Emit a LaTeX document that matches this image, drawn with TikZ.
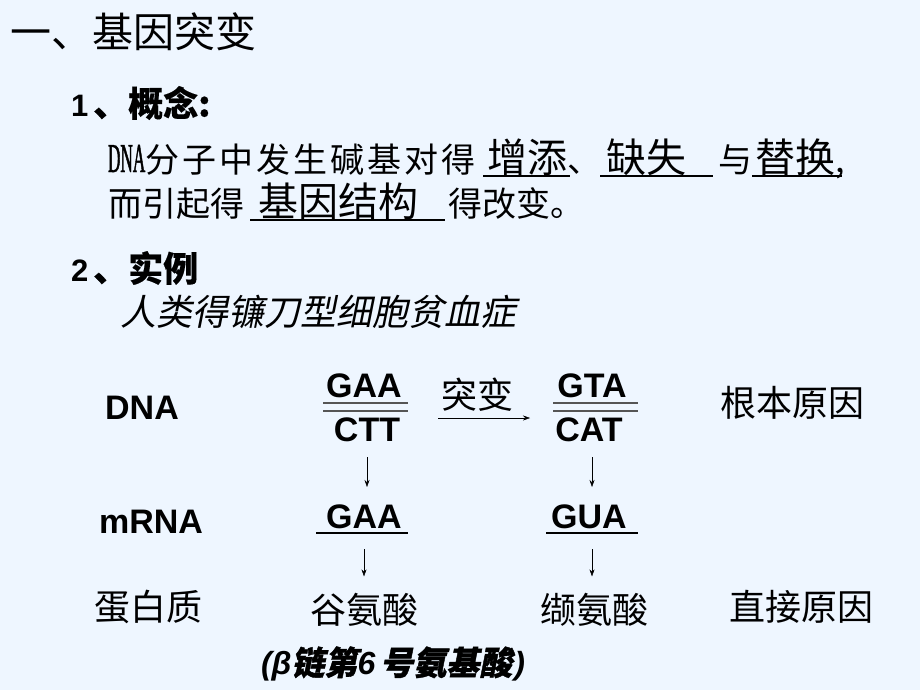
\documentclass[tikz,border=0pt]{standalone}
\usepackage{fontspec}
\setmainfont{Liberation Sans}
\newfontfamily\cjk{Noto Sans CJK SC}
\newfontfamily\cjkwide[LetterSpace=9]{Noto Sans CJK SC}
\newfontfamily\cjkb[FakeBold=0.4]{Noto Sans CJK SC}
\newfontfamily\cjki[FakeSlant=0.2]{Noto Sans CJK SC}
\newfontfamily\cjkbi[FakeBold=1.2,FakeSlant=0.2]{Noto Sans CJK SC}
\newfontfamily\narrowserif[FakeStretch=0.42,FakeBold=1]{Liberation Serif}
\usetikzlibrary{arrows.meta}
\definecolor{slidebg}{RGB}{238,246,255}
\definecolor{rulegray}{RGB}{85,85,85}
\newcommand{\fsz}[1]{\fontsize{#1}{#1}\selectfont}
\tikzset{
  every node/.style={inner sep=0pt, outer sep=0pt},
  base/.style={font=\bfseries\fsz{34}},
  zh/.style={font=\cjk\fsz{36}},
  txt/.style={anchor=base west, font=\cjk\fsz{34}},
  key/.style={anchor=base west, font=\cjk\fsz{40}},
  uline/.style={line width=1.6pt},
  strand/.style={rulegray, line width=1.6pt},
}
\begin{document}
\begin{tikzpicture}[x=1pt, y=-1pt, >={Stealth[length=7pt,width=5pt]}]
\fill[slidebg] (0,0) rectangle (920,690);

\node[anchor=west, font=\cjk\fsz{41}] (title) at (10,32) {一、基因突变};
\node[anchor=west, font=\bfseries\fsz{31}] (concept) at (71,103) {1\hspace{5pt}{\cjkb\fsz{35}、概念:}};

\node[txt] (def1) at (108,172) {{\narrowserif\fsz{41}DNA}{\cjkwide 分子中发生碱基对得}};
\node[key] (add) at (487,172) {增添};
\node[txt] (sep) at (add.base east) {、};
\node[key] (del) at (606,172) {缺失};
\node[txt] (with) at (718,172) {与};
\node[key] (sub) at (755,172) {替换};
\node[txt] (comma) at (sub.base east) {,};
\node[txt] (def2) at (108,216) {而引起得};
\node[key] (struct) at (258,216) {基因结构};
\node[txt] (def3) at (448,216) {得改变。};
\draw[uline] ([shift={(-4,4)}]add.base west) -- ([shift={(3,4)}]add.base east);
\draw[uline] ([shift={(-6,4)}]del.base west) -- ([shift={(27,4)}]del.base east);
\draw[uline] ([shift={(-3,4)}]sub.base west) -- ([shift={(7,4)}]sub.base east);
\draw[uline] ([shift={(-8,4)}]struct.base west) -- ([shift={(27,4)}]struct.base east);

\node[anchor=west, font=\bfseries\fsz{31}] (example) at (71,268) {2\hspace{5pt}{\cjkb\fsz{35}、实例}};
\node[anchor=west, font=\cjki\fsz{36}] (disease) at (120,312) {人类得镰刀型细胞贫血症};

\node[base] (dnalbl) at (142,408) {DNA};
\node[base] (gaa) at (364,386) {GAA};
\node[base] (ctt) at (367,430) {CTT};
\node[base] (gta) at (592,386) {GTA};
\node[base] (cat) at (589,430) {CAT};
\draw[strand] (323,403) -- (408,403);
\draw[strand] (323,411) -- (408,411);
\draw[strand] (553,403) -- (638,403);
\draw[strand] (553,411) -- (638,411);
\coordinate (mfrom) at (438,418);
\coordinate (mto) at (530,418);
\draw[->] (mfrom) -- (mto);
\node[zh] (mut) at (477,395) {突变};
\node[zh] (rootcause) at (792,403) {根本原因};

\node[base] (mrnalbl) at (151,522) {mRNA};
\node[base] (mgaa) at (364,517) {GAA};
\node[base] (gua) at (589,517) {GUA};
\draw[uline] (316,533) -- (408,533);
\draw[uline] (546,533) -- (638,533);
\draw[->, shorten <=15pt, shorten >=18pt] (ctt.south) -- (ctt.south |- mgaa.north);
\draw[->, shorten <=15pt, shorten >=18pt] ([xshift=3pt]cat.south) -- ([xshift=3pt]cat.south |- gua.north);

\node[zh] (protlbl) at (148,607) {蛋白质};
\node[zh] (glu) at (364,610) {谷氨酸};
\node[zh] (val) at (594,610) {缬氨酸};
\node[zh] (directcause) at (801,607) {直接原因};
\draw[->, shorten <=20pt, shorten >=17pt] (mgaa.south) -- (mgaa.south |- glu.north);
\draw[->, shorten <=20pt, shorten >=17pt] ([xshift=3pt]gua.south) -- ([xshift=3pt]gua.south |- val.north);

\node[font=\bfseries\itshape\fsz{32}] (note) at (393,664) {(β{\cjkbi\fsz{33}链第}6\hspace{5pt}{\cjkbi\fsz{33}号氨基酸}\hspace{2pt})};
\end{tikzpicture}
\end{document}
